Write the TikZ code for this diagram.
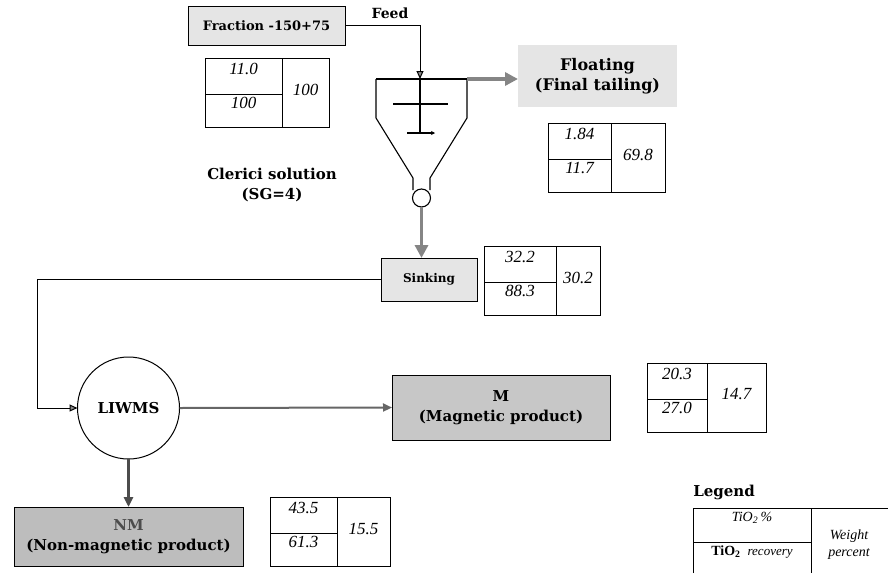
\documentclass[tikz,border=0pt]{standalone}
\usepackage{fontspec}
\setmainfont{Liberation Serif}
\newfontfamily\labelfont{DejaVu Serif}
\usetikzlibrary{arrows.meta}

% one assay table: name, x, y, left width, right width, top, bottom, right value
\newcommand\datatab[8]{%
  \node[cellbox, anchor=north west, minimum width=#4pt, minimum height=36pt] (#1a) at (#2,#3) {};
  \node[cellbox, anchor=north west, minimum width=#4pt, minimum height=33pt] (#1b) at (#1a.south west) {};
  \node[cellbox, anchor=north west, minimum width=#5pt, minimum height=69pt] (#1c) at (#1a.north east) {};
  \node[num] (#1top) at ([yshift=-11pt]#1a.north) {#6};
  \node[num] (#1bot) at ([yshift=-9pt]#1b.north) {#7};
  \node[num] (#1rt) at ([yshift=3pt]#1c.center) {#8};
}

\begin{document}
\begin{tikzpicture}[x=1pt,y=-1pt,
  every node/.style={inner sep=0pt, outer sep=0pt},
  lbl/.style={font=\labelfont\bfseries\fontsize{#1}{20}\selectfont, align=center},
  lbl/.default=15,
  num/.style={font=\fontsize{17}{19}\selectfont\itshape},
  cellbox/.style={draw=black, line width=0.9pt},
  lightbox/.style={fill=black!10, draw=black, line width=0.9pt},
  prodbox/.style={fill=black!22, draw=black, line width=0.9pt},
  conn/.style={draw=black, line width=1pt},
  funnel/.style={draw=black, line width=1.1pt},
  smalltip/.style={-{Triangle[length=8pt,width=7pt,fill=black!45]}},
  fatarrow/.style={draw=black!48, line width=3.5pt, -{Triangle[length=13pt,width=13pt,fill=black!48]}},
  midarrow/.style={draw=black!60, line width=2pt, -{Triangle[length=9pt,width=8pt,fill=black!60]}},
  darkarrow/.style={draw=black!70, line width=3pt, -{Triangle[length=10pt,width=9pt,fill=black!70]}},
]
\useasboundingbox (0,0) rectangle (888,573);

% feed
\node[lightbox, minimum width=157pt, minimum height=39pt, lbl=13] (frac) at (266.5,25.5) {Fraction -150+75};
\node[lbl=14] (feedlbl) at (390,13) {Feed};
\datatab{feed}{205}{58}{77}{47}{11.0}{100}{100}

% heavy liquid separation vessel
\coordinate (ftop) at (420,79);
\coordinate (fright) at (467,79);
\draw[funnel] (376,79) -- (467,79);
\draw[funnel] (376,79) -- (376,118) -- (413,178) -- (413,190);
\draw[funnel] (467,79) -- (467,118) -- (430,178) -- (430,190);
\draw[funnel] (393,104) -- (448,104);
\draw[funnel] (420,79) -- (420,133);
\draw[funnel, -{Stealth[length=4pt,width=4pt]}] (407,133) -- (435,133);
\node[circle, draw, line width=1.1pt, minimum size=18pt] (valve) at (421.5,198) {};
\draw[conn, smalltip] (frac.east) -| (ftop);

\node[lbl=15] (clerici) at (272,185) {Clerici solution\\(SG=4)};

% float fraction
\node[fill=black!10, minimum width=159pt, minimum height=62pt, lbl=16] (float) at (597.5,76) {Floating\\(Final tailing)};
\draw[fatarrow] (fright) -- (fright -| float.west);
\datatab{flt}{548}{123}{63}{54}{1.84}{11.7}{69.8}

% sink fraction
\node[lightbox, minimum width=96pt, minimum height=43pt, lbl=12] (sink) at (429,279.5) {Sinking};
\draw[fatarrow] (valve.south) -- (valve.south |- sink.north);
\datatab{snk}{484}{246}{72}{44}{32.2}{88.3}{30.2}

% magnetic separation
\node[circle, draw, line width=1pt, minimum size=102pt, lbl=15] (liwms) at (128.5,408) {LIWMS};
\coordinate (bend) at (37,279.5);
\draw[conn, smalltip] (sink.west) -- (bend) |- (liwms.west);

\node[prodbox, minimum width=218pt, minimum height=65pt, lbl=15] (mag) at (501,407.5) {M\\(Magnetic product)};
\draw[midarrow] (liwms.east) -- (mag.west);
\datatab{mg}{647}{363}{60}{59}{20.3}{27.0}{14.7}

\node[prodbox, fill=black!26, minimum width=229pt, minimum height=59pt, lbl=15] (nonmag) at (128.5,536.5) {\textcolor{black!70}{NM}\\(Non-magnetic product)};
\draw[darkarrow] (liwms.south) -- (nonmag.north);
\datatab{nm}{270}{497}{67}{53}{43.5}{61.3}{15.5}

% legend
\node[lbl=15] (legend) at (724,492) {Legend};
\draw[conn, line width=0.9pt] (693,573) -- (693,508) -- (888,508);
\draw[conn, line width=0.9pt] (811,508) -- (811,573);
\draw[conn, line width=0.9pt] (693,542) -- (811,542);
\node[font=\fontsize{14}{16}\selectfont\itshape] (leggrade) at (752,518) {TiO\textsubscript{2}\,\%};
\node (legrec) at (752,552) {\fontsize{14}{16}\selectfont\bfseries TiO\textsubscript{2}\ \ \fontsize{13}{15}\selectfont\mdseries\itshape recovery};
\node[font=\fontsize{14}{17}\selectfont\itshape, align=center] (legwt) at (849,545) {Weight\\percent};
\end{tikzpicture}
\end{document}
